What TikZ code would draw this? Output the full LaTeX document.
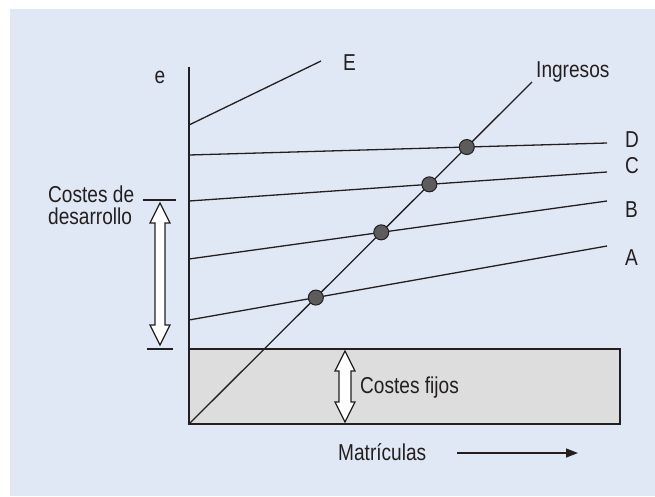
\documentclass[tikz,border=0pt]{standalone}
\usepackage{fontspec}
\setmainfont[FakeStretch=0.83]{Liberation Sans}
\usepackage{tikz}
\usetikzlibrary{arrows.meta}
\definecolor{panelblue}{RGB}{225,232,245}
\definecolor{boxgray}{RGB}{221,221,221}
\definecolor{dotgray}{RGB}{92,92,92}
\definecolor{ink}{RGB}{35,31,32}
\tikzstyle{costline} = [draw=ink, line width=1.3pt]
\tikzstyle{tag} = [font=\fontsize{23}{22}\selectfont, text=ink, inner sep=0pt]
\tikzstyle{breakeven} = [circle, draw=ink, fill=dotgray, minimum size=15pt, inner sep=0pt, line width=1pt]
\tikzstyle{dblarrow} = [draw=ink, fill=white, line width=1.2pt, line join=miter]
\tikzstyle{arrow} = [draw=ink, line width=1.3pt, -{Triangle[length=12pt,width=9pt]}]

\begin{document}
\begin{tikzpicture}[x=1pt, y=-1pt]
        \useasboundingbox (0,0) rectangle (655,496);
        \fill [panelblue] (10,9) rectangle (655,496);
        % fixed costs box and axis
        \filldraw [fill=boxgray, draw=ink, line width=1.3pt] (189,349) rectangle (620,424);
        \coordinate (top) at (189,67);
        \coordinate (origin) at (189,424);
        \draw [costline] (top) -- (origin);
        % cost lines
        \coordinate (e1) at (189,125);  \coordinate (e2) at (321,61);
        \coordinate (d1) at (189,155);  \coordinate (d2) at (607,143);
        \coordinate (c1) at (189,201);  \coordinate (c2) at (607,172);
        \coordinate (b1) at (189,259);  \coordinate (b2) at (607,201);
        \coordinate (a1) at (189,320);  \coordinate (a2) at (607,246);
        \coordinate (ing) at (532,82);
        \draw [costline] (e1) -- (e2);
        \draw [costline] (d1) -- (d2);
        \draw [costline] (c1) -- (c2);
        \draw [costline] (b1) -- (b2);
        \draw [costline] (a1) -- (a2);
        \draw [costline] (origin) -- (ing);
        % break-even points
        \node (pa) [breakeven] at (intersection of origin--ing and a1--a2) {};
        \node (pb) [breakeven] at (intersection of origin--ing and b1--b2) {};
        \node (pc) [breakeven] at (intersection of origin--ing and c1--c2) {};
        \node (pd) [breakeven] at (intersection of origin--ing and d1--d2) {};
        % labels
        \node (le) [tag] at (160,77) {e};
        \node (lE) [tag, anchor=west] at (343,63) {E};
        \node (lD) [tag, anchor=west] at (625,140) {D};
        \node (lC) [tag, anchor=west] at (625,166) {C};
        \node (lB) [tag, anchor=west] at (625,210) {B};
        \node (lA) [tag, anchor=west] at (625,258) {A};
        \node (ling) [tag, anchor=west] at (536,72) {Ingresos};
        \node (ldev) [tag, anchor=west, align=left] at (48,205) {Costes de\\desarrollo};
        \node (lfix) [tag, anchor=west] at (360,388) {Costes fijos};
        \node (lmat) [tag, anchor=west] at (338,452) {Matrículas};
        % development cost range
        \coordinate (t1) at (143,200);  \coordinate (t2) at (176,200);
        \coordinate (t3) at (147,349);  \coordinate (t4) at (173,349);
        \draw [costline] (t1) -- (t2);
        \draw [costline] (t3) -- (t4);
        \draw [dblarrow] (160,203) -- (170,223) -- (165,223) -- (165,325) -- (170,325) -- (160,345)
            -- (150,325) -- (155,325) -- (155,223) -- (150,223) -- cycle;
        \draw [dblarrow] (345,351) -- (355,371) -- (351,371) -- (351,402) -- (355,402) -- (345,422)
            -- (335,402) -- (339,402) -- (339,371) -- (335,371) -- cycle;
        % enrolment arrow
        \coordinate (m1) at (457,453);
        \coordinate (m2) at (578,453);
        \draw [arrow] (m1) -- (m2);
    \end{tikzpicture}
\end{document}
